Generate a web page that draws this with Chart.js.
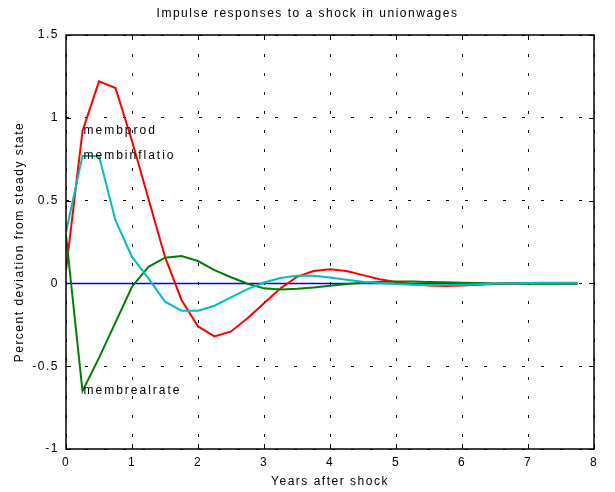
<!DOCTYPE html>
<html lang="en">
<head>
<meta charset="UTF-8">
<title>Impulse responses to a shock in unionwages</title>
<script src="https://cdn.jsdelivr.net/npm/chart.js"></script>
<style>
  body { margin: 0; background: #fff; }
</style>
</head>
<body>
<canvas id="chart" width="615" height="492"></canvas>
<script>
// years after the shock, quarterly steps
const years = [
  0, 0.25, 0.5, 0.75, 1, 1.25, 1.5, 1.75,
  2, 2.25, 2.5, 2.75, 3, 3.25, 3.5, 3.75,
  4, 4.25, 4.5, 4.75, 5, 5.25, 5.5, 5.75,
  6, 6.25, 6.5, 6.75, 7, 7.25, 7.5, 7.75
];

const membprod = [
  0.08, 0.92, 1.22, 1.18, 0.86, 0.51, 0.16, -0.10,
  -0.26, -0.32, -0.29, -0.21, -0.12, -0.03, 0.04, 0.075,
  0.085, 0.075, 0.05, 0.025, 0.008, -0.005, -0.012, -0.015,
  -0.013, -0.008, -0.004, 0, 0.002, 0.002, 0.002, 0.001
];

const membinflatio = [
  0.31, 0.77, 0.77, 0.38, 0.16, 0.03, -0.11, -0.165,
  -0.165, -0.135, -0.085, -0.035, 0.005, 0.032, 0.046, 0.046,
  0.036, 0.022, 0.01, 0.002, -0.004, -0.008, -0.01, -0.01,
  -0.008, -0.005, -0.002, 0.001, 0.003, 0.004, 0.004, 0.004
];

const membrealrate = [
  0.29, -0.65, -0.45, -0.235, -0.02, 0.10, 0.155, 0.165,
  0.135, 0.08, 0.037, -0.002, -0.03, -0.037, -0.033, -0.025,
  -0.014, -0.004, 0.004, 0.009, 0.011, 0.011, 0.009, 0.007,
  0.004, 0.002, 0, -0.001, -0.002, -0.002, -0.002, -0.002
];

const zeroLine = [
  0, 0, 0, 0, 0, 0, 0, 0, 0, 0, 0, 0, 0, 0, 0, 0,
  0, 0, 0, 0, 0, 0, 0, 0, 0, 0, 0, 0, 0, 0, 0, 0
];

const xTicks = [0, 1, 2, 3, 4, 5, 6, 7, 8];
const yTicks = [-1, -0.5, 0, 0.5, 1, 1.5];

const FONT = '"Liberation Sans", Arial, sans-serif';
const SPACING = '1.5px';

function pts(vals) {
  return years.map((x, i) => ({ x: x, y: vals[i] }));
}

// matlab style: text labels, box, inward ticks
const framePlugin = {
  id: 'frame',
  beforeUpdate(chart) { chart.ctx.letterSpacing = SPACING; },
  beforeDraw(chart) { chart.ctx.letterSpacing = SPACING; },
  afterDatasetsDraw(chart) {
    const { ctx, chartArea: a, scales: { x, y } } = chart;
    ctx.save();
    ctx.letterSpacing = '2px';
    ctx.font = '12px ' + FONT;
    ctx.fillStyle = '#000';
    ctx.textAlign = 'left';
    ctx.textBaseline = 'middle';
    [['membprod', membprod], ['membinflatio', membinflatio], ['membrealrate', membrealrate]]
      .forEach(([name, vals]) => {
        ctx.fillText(name, x.getPixelForValue(years[1]) + 1, y.getPixelForValue(vals[1]));
      });

    ctx.strokeStyle = '#000';
    ctx.lineWidth = 1.5;
    ctx.strokeRect(a.left, a.top, a.right - a.left, a.bottom - a.top);

    ctx.lineWidth = 1;
    const t = 5;
    ctx.beginPath();
    xTicks.forEach(v => {
      const px = Math.round(x.getPixelForValue(v)) + 0.5;
      ctx.moveTo(px, a.bottom); ctx.lineTo(px, a.bottom - t);
      ctx.moveTo(px, a.top); ctx.lineTo(px, a.top + t);
    });
    yTicks.forEach(v => {
      const py = Math.round(y.getPixelForValue(v)) + 0.5;
      ctx.moveTo(a.left, py); ctx.lineTo(a.left + t, py);
      ctx.moveTo(a.right, py); ctx.lineTo(a.right - t, py);
    });
    ctx.stroke();
    ctx.restore();
  }
};

new Chart(document.getElementById('chart').getContext('2d'), {
  type: 'line',
  data: {
    datasets: [
      { label: 'membprod', data: pts(membprod), borderColor: '#ff0000', order: 3 },
      { label: 'membinflatio', data: pts(membinflatio), borderColor: '#00bfbf', order: 1 },
      { label: 'membrealrate', data: pts(membrealrate), borderColor: '#008000', order: 2 },
      { label: 'zero', data: pts(zeroLine), borderColor: '#0000ff', borderWidth: 1.5, order: 4 }
    ]
  },
  options: {
    responsive: false,
    animation: false,
    datasets: {
      line: { borderWidth: 2, pointRadius: 0, tension: 0, fill: false }
    },
    layout: { padding: { left: 10.5, right: 10.5, top: 0, bottom: 0 } },
    plugins: {
      legend: { display: false },
      tooltip: { enabled: false },
      title: {
        display: true,
        text: 'Impulse responses to a shock in unionwages',
        color: '#000',
        font: { family: FONT, size: 12, weight: 'normal' },
        padding: { top: 6, bottom: 14.6 }
      }
    },
    scales: {
      x: {
        type: 'linear',
        min: 0, max: 8,
        afterFit(s) { s.height = 43; },
        afterBuildTicks(s) { s.ticks = xTicks.map(v => ({ value: v })); },
        ticks: { color: '#000', padding: 6, font: { family: FONT, size: 12 }, maxRotation: 0,
                 callback: v => String(v) },
        grid: { color: '#000', lineWidth: 1, drawTicks: false },
        border: { display: false, dash: [3, 16] },
        title: {
          display: true, text: 'Years after shock', color: '#000',
          font: { family: FONT, size: 12 }, padding: { top: 0, bottom: 3 }
        }
      },
      y: {
        type: 'linear',
        min: -1, max: 1.5,
        afterFit(s) { s.width = 55.5; },
        afterBuildTicks(s) { s.ticks = yTicks.map(v => ({ value: v })); },
        ticks: { color: '#000', padding: 7, font: { family: FONT, size: 12 },
                 callback: v => String(v) },
        grid: { color: '#000', lineWidth: 1, drawTicks: false },
        border: { display: false, dash: [3, 16] },
        title: {
          display: true, text: 'Percent deviation from steady state', color: '#000',
          font: { family: FONT, size: 12 }, padding: { top: 2.3, bottom: 0 }
        }
      },
      // empty right-hand axis, only keeps a margin so the title stays centred
      yRight: {
        type: 'linear',
        position: 'right',
        min: -1, max: 1.5,
        afterFit(s) { s.width = 10.5; },
        ticks: { display: false },
        grid: { display: false, drawTicks: false },
        border: { display: false }
      }
    }
  },
  plugins: [framePlugin]
});
</script>
</body>
</html>
